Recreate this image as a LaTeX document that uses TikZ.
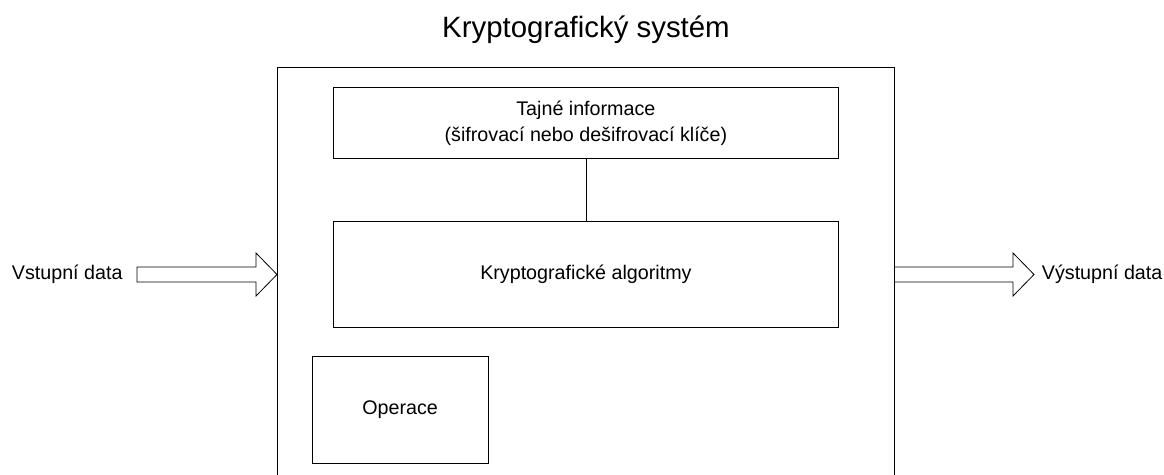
\documentclass[tikz,border=0pt]{standalone}
\usepackage{fontspec}
\setmainfont{Liberation Sans}
\begin{document}
\begin{tikzpicture}[x=1pt,y=-1pt,
    line width=0.8pt,
    txt/.style={font=\fontsize{19.7}{26}\selectfont, align=center, inner sep=0pt},
    blk/.style={draw, txt, anchor=north west},
    fatarrow/.style={draw, line width=0.8pt, line join=miter}]
  \useasboundingbox (0,0) rectangle (1164,474);

  % title
  \node[font=\fontsize{29.4}{34}\selectfont, inner sep=0pt] (title) at (586,30) {Kryptografický systém};

  % the system frame (continues below the page edge)
  \coordinate (sysNW) at (277,67);
  \coordinate (sysNE) at (894,67);
  \draw (277,476) -- (sysNW) -- (sysNE) -- (894,476);

  % inner blocks
  \node[blk, minimum width=505, minimum height=71] (tajne) at (333,87.3)
    {Tajné informace\\(šifrovací nebo dešifrovací klíče)};
  \node[blk, minimum width=505, minimum height=106.5] (algo) at (333,220.8)
    {Kryptografické algoritmy};
  \node[blk, minimum width=176, minimum height=107] (oper) at (311.7,355.7)
    {Operace};

  \draw (tajne.south) -- (algo.north);

  % input / output
  \node[txt, anchor=west] (vin) at (11.5,274.5) {Vstupní data};
  \node[txt, anchor=west] (vout) at (1041.5,274.5) {Výstupní data};

  \coordinate (inTip) at (277,274.5);
  \coordinate (outBase) at (894,274.5);

  \draw[fatarrow] ([xshift=-140]inTip) ++(0,-7.5) -- ++(119,0) -- ++(0,-14)
    -- (inTip) -- ++(-21,21.5) -- ++(0,-14) -- ++(-119,0) -- cycle;
  \draw[fatarrow] (outBase) ++(0,-7.5) -- ++(119,0) -- ++(0,-14)
    -- ([xshift=140]outBase) -- ++(-21,21.5) -- ++(0,-14) -- ++(-119,0);
\end{tikzpicture}
\end{document}
